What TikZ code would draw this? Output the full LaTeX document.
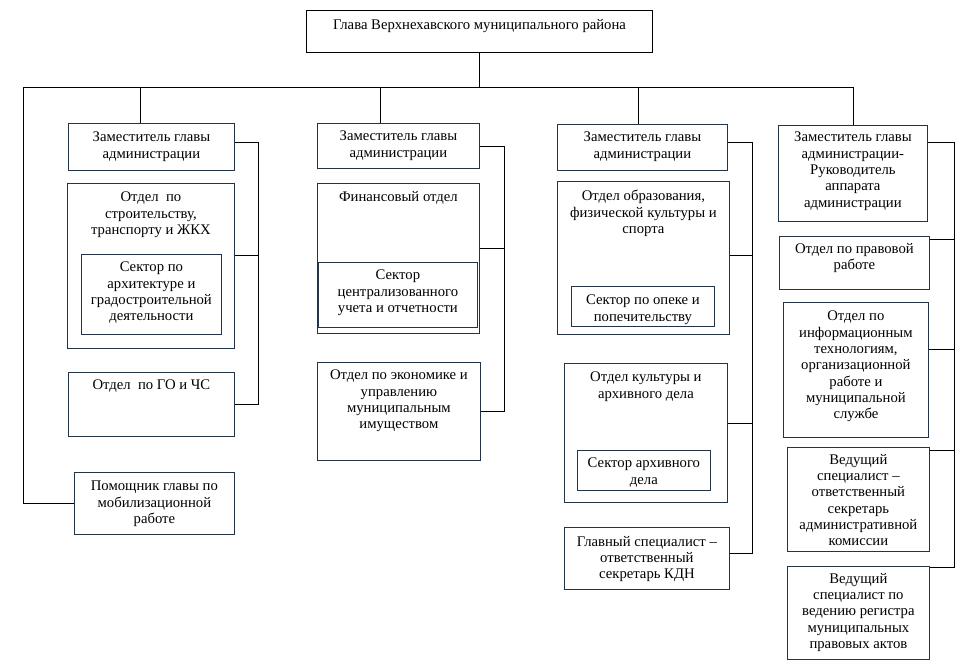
\documentclass[tikz,border=0pt]{standalone}
\usepackage{fontspec}
\setmainfont{Liberation Serif}
\usetikzlibrary{positioning}

\definecolor{frame}{HTML}{243447}

\tikzset{
  unit/.style={draw=frame, line width=0.8pt, anchor=north west, inner sep=0pt},
  txt/.style={align=center, inner sep=0pt, font=\fontsize{14.7}{16.3}\selectfont},
  link/.style={line width=0.8pt}
}

\begin{document}
\begin{tikzpicture}[x=1pt, y=-1pt]
  \useasboundingbox (0,0) rectangle (976,661);

  % head of the district
  \node[unit, draw=black, line width=1pt, minimum width=346pt, minimum height=42pt] (glava) at (306,10) {};
  \node[txt, below=9pt of glava.north] (glava-t) {Глава Верхнехавского муниципального района};

  % first deputy
  \node[unit, minimum width=166pt, minimum height=47pt] (zam1) at (68,123) {};
  \node[txt, below=9pt of zam1.north] (zam1-t) {Заместитель главы\\администрации};
  \node[unit, minimum width=167pt, minimum height=165pt] (stroy) at (67,183) {};
  \node[txt, below=9pt of stroy.north] (stroy-t) {Отдел\ \ по\\строительству,\\транспорту и ЖКХ};
  \node[unit, minimum width=140pt, minimum height=80pt] (arch) at (81,254) {};
  \node[txt, below=8pt of arch.north] (arch-t) {Сектор по\\архитектуре и\\градостроительной\\деятельности};
  \node[unit, minimum width=166pt, minimum height=64pt] (gochs) at (68,372) {};
  \node[txt, below=8pt of gochs.north] (gochs-t) {Отдел\ \ по ГО и ЧС};
  \node[unit, minimum width=160pt, minimum height=62pt] (pom) at (74,472) {};
  \node[txt, below=9pt of pom.north] (pom-t) {Помощник главы по\\мобилизационной\\работе};

  % second deputy
  \node[unit, minimum width=162pt, minimum height=45pt] (zam2) at (317,123) {};
  \node[txt, below=8pt of zam2.north] (zam2-t) {Заместитель главы\\администрации};
  \node[unit, minimum width=162pt, minimum height=150pt] (fin) at (317,183) {};
  \node[txt, below=8pt of fin.north] (fin-t) {Финансовый отдел};
  \node[unit, minimum width=159pt, minimum height=65pt] (uchet) at (318,262) {};
  \node[txt, below=8pt of uchet.north] (uchet-t) {Сектор\\централизованного\\учета и отчетности};
  \node[unit, minimum width=163pt, minimum height=98pt] (econ) at (317,362) {};
  \node[txt, below=8pt of econ.north] (econ-t) {Отдел по экономике и\\управлению\\муниципальным\\имуществом};

  % third deputy
  \node[unit, minimum width=170pt, minimum height=46pt] (zam3) at (557,124) {};
  \node[txt, below=8pt of zam3.north] (zam3-t) {Заместитель главы\\администрации};
  \node[unit, minimum width=172pt, minimum height=153pt] (obr) at (557,181) {};
  \node[txt, below=9pt of obr.north] (obr-t) {Отдел образования,\\физической культуры и\\спорта};
  \node[unit, minimum width=143pt, minimum height=40pt] (opeka) at (571,286) {};
  \node[txt, below=9pt of opeka.north] (opeka-t) {Сектор по опеке и\\попечительству};
  \node[unit, minimum width=163pt, minimum height=139pt] (kult) at (564,363) {};
  \node[txt, below=9pt of kult.north] (kult-t) {Отдел культуры\ и\\архивного дела};
  \node[unit, minimum width=133pt, minimum height=40pt] (archiv) at (577,450) {};
  \node[txt, below=8pt of archiv.north] (archiv-t) {Сектор архивного\\дела};
  \node[unit, minimum width=165pt, minimum height=62pt] (kdn) at (564,527) {};
  \node[txt, below=9pt of kdn.north] (kdn-t) {Главный специалист --\\ответственный\\секретарь КДН};

  % fourth deputy
  \node[unit, minimum width=149pt, minimum height=96pt] (zam4) at (778,125) {};
  \node[txt, below=7pt of zam4.north] (zam4-t) {Заместитель главы\\администрации-\\Руководитель\\аппарата\\администрации};
  \node[unit, minimum width=150pt, minimum height=53pt] (prav) at (779,236) {};
  \node[txt, below=7pt of prav.north] (prav-t) {Отдел по правовой\\работе};
  \node[unit, minimum width=145pt, minimum height=135pt] (inf) at (783,302) {};
  \node[txt, below=9pt of inf.north] (inf-t) {Отдел по\\информационным\\технологиям,\\организационной\\работе и\\муниципальной\\службе};
  \node[unit, minimum width=142pt, minimum height=104pt] (ved1) at (787,447) {};
  \node[txt, below=7pt of ved1.north] (ved1-t) {Ведущий\\специалист --\\ответственный\\секретарь\\административной\\комиссии};
  \node[unit, minimum width=142pt, minimum height=93pt] (ved2) at (787,566) {};
  \node[txt, below=7pt of ved2.north] (ved2-t) {Ведущий\\специалист по\\ведению регистра\\муниципальных\\правовых актов};

  % main bus
  \coordinate (busL) at (23,87);
  \draw[link] (glava.south) -- (glava.south |- busL);
  \draw[link] (pom.west) -| (busL) -- (zam4.north |- busL) -- (zam4.north);
  \draw[link] ([xshift=-11pt]zam1.north) -- ([xshift=-11pt]zam1.north |- busL);
  \draw[link] ([xshift=-18pt]zam2.north) -- ([xshift=-18pt]zam2.north |- busL);
  \draw[link] ([xshift=-4pt]zam3.north) -- ([xshift=-4pt]zam3.north |- busL);

  % side rails
  \draw[link] ([yshift=-19pt]zam1.north east) -- ++(24,0) coordinate (rail1) |- (gochs.east);
  \draw[link] ([yshift=11pt]stroy.east) -| (rail1);

  \draw[link] (zam2.east) -- ++(25,0) coordinate (rail2) |- (econ.east);
  \draw[link] ([yshift=10pt]fin.east) -| (rail2);

  \draw[link] ([yshift=5pt]zam3.east) -- ++(25,0) coordinate (rail3) |- ([yshift=5pt]kdn.east);
  \draw[link] ([yshift=3pt]obr.east) -| (rail3);
  \draw[link] ([yshift=10pt]kult.east) -| (rail3);

  \draw[link] ([yshift=-17pt]zam4.north east) -- ++(27,0) coordinate (rail4) |- ([yshift=-1pt]ved2.north east);
  \draw[link] ([yshift=-3pt]prav.north east) -| (rail4);
  \draw[link] ([yshift=21pt]inf.east) -| (rail4);
  \draw[link] ([yshift=-3pt]ved1.north east) -| (rail4);
\end{tikzpicture}
\end{document}
